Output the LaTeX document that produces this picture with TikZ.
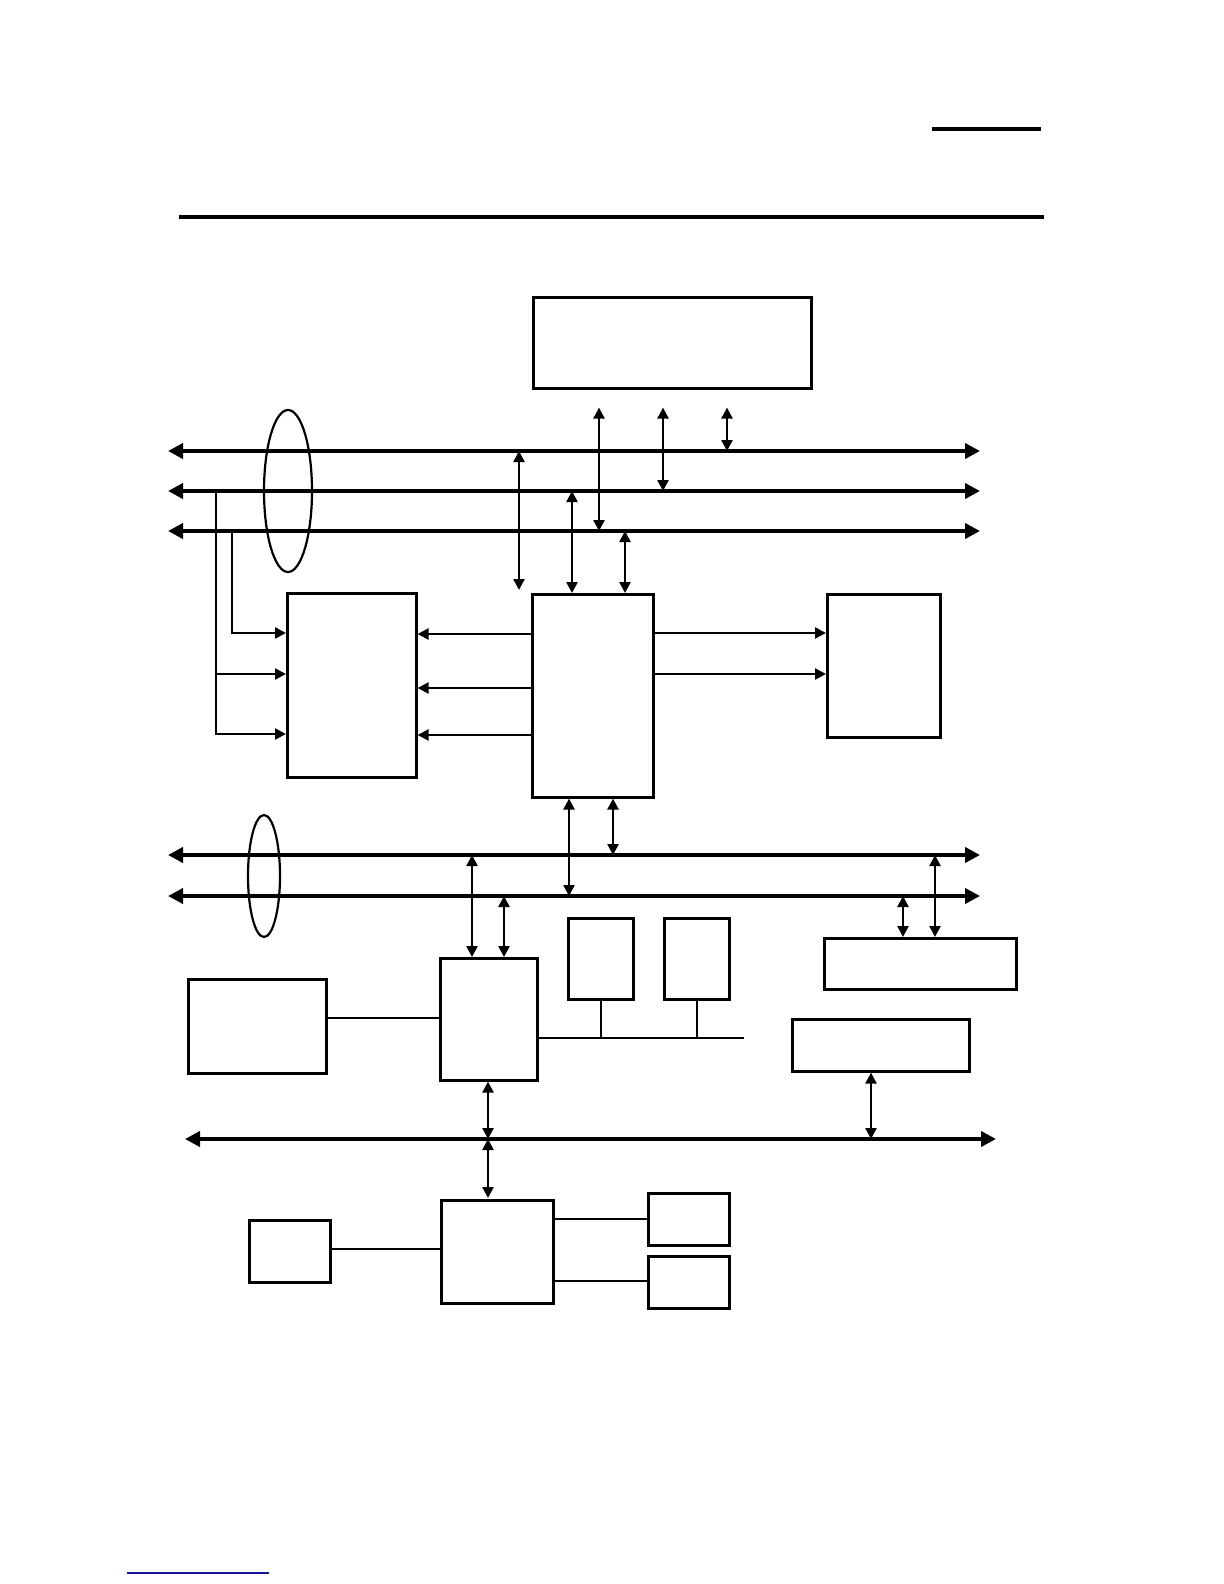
\documentclass[tikz,border=0pt]{standalone}
\usetikzlibrary{arrows.meta}
\definecolor{InkCol}{RGB}{0,0,0}
\definecolor{NoteBlue}{RGB}{20,20,150}
\tikzset{
  hwbox/.style={draw=InkCol, line width=1.3bp, inner sep=0pt, anchor=north west},
  hwbus/.style={{Triangle[length=7.5bp,width=7.5bp]}-{Triangle[length=7.5bp,width=7.5bp]}, line width=2.4bp, draw=InkCol},
  hwlink/.style={{Triangle[length=5.5bp,width=5.5bp]}-{Triangle[length=5.5bp,width=5.5bp]}, line width=1.2bp, draw=InkCol},
  hwfeed/.style={-{Triangle[length=5.5bp,width=5.5bp]}, line width=1.2bp, draw=InkCol},
  hwwire/.style={line width=1.1bp, draw=InkCol},
  hwrule/.style={line width=1.6bp, draw=InkCol},
  hwring/.style={line width=1.1bp, draw=InkCol}
}
% box: name, left, top, width, height (pixels)
\newcommand{\HWBox}[5]{%
  \node[hwbox, minimum width=#4*0.5bp, minimum height=#5*0.5bp] (#1) at (#2,#3) {};}

\begin{document}
\begin{tikzpicture}[x=0.5bp,y=-0.5bp]
  \useasboundingbox[fill=white] (0,0) rectangle (1224,1584);
  % page rules
  \draw[hwrule] (932,129) -- (1041,129);
  \draw[hwrule] (179,217) -- (1044,217);
  \draw[NoteBlue,line width=0.7bp] (127,1573) -- (269,1573);
  % blocks
  \HWBox{top}{532}{296}{278}{91}
  \HWBox{left}{286}{592}{129}{184}
  \HWBox{mid}{531}{593}{121}{203}
  \HWBox{right}{826}{593}{113}{143}
  \HWBox{smA}{567}{917}{65}{81}
  \HWBox{smB}{663}{917}{65}{81}
  \HWBox{boxA}{823}{937}{192}{51}
  \HWBox{boxB}{791}{1018}{177}{52}
  \HWBox{bigL}{187}{978}{138}{94}
  \HWBox{midL}{439}{957}{97}{122}
  \HWBox{botM}{440}{1199}{112}{103}
  \HWBox{botL}{248}{1219}{81}{62}
  \HWBox{botR}{647}{1192}{81}{52}
  \HWBox{botS}{647}{1255}{81}{52}
  % buses
  \foreach \n/\y in {b1/451,b2/491,b3/531,b4/855,b5/896}{%
    \coordinate (\n w) at (168,\y);
    \coordinate (\n e) at (980,\y);
    \draw[hwbus] (\n w) -- (\n e);}
  \coordinate (b6w) at (185,1139);
  \coordinate (b6e) at (996,1139);
  \draw[hwbus] (b6w) -- (b6e);
  \draw[hwring] (288,491) ellipse [x radius=24, y radius=81];
  \draw[hwring] (264,876) ellipse [x radius=16, y radius=61];
  % top block to buses
  \foreach \x/\n in {599/b3,663/b2,727/b1}{%
    \draw[hwlink] ([yshift=-9bp]top.south -| \x,0) -- (\n w -| \x,0);}
  % buses to mid block
  \draw[hwlink] (b1w -| 519,0) -- ([yshift=1.5bp]mid.north -| 519,0);
  \draw[hwlink] (b2w -| 572,0) -- (mid.north -| 572,0);
  \draw[hwlink] (b3w -| 625,0) -- (mid.north -| 625,0);
  % mid block to left block
  \foreach \y in {634,688,735}{%
    \draw[hwfeed] (mid.west |- 0,\y) -- (left.east |- 0,\y);}
  % buses to left block
  \draw[hwfeed] (b3w -| 232,0) |- (left.west |- 0,633);
  \draw[hwfeed] (b2w -| 216,0) |- (left.west |- 0,734);
  \draw[hwfeed] (216,674) -- (left.west |- 0,674);
  % mid block to right block
  \foreach \y in {633,674}{%
    \draw[hwfeed] (mid.east |- 0,\y) -- (right.west |- 0,\y);}
  % mid block to lower buses
  \draw[hwlink] (mid.south -| 569,0) -- (b5w -| 569,0);
  \draw[hwlink] (mid.south -| 613,0) -- (b4w -| 613,0);
  \draw[hwlink] (b4w -| 472,0) -- (midL.north -| 472,0);
  \draw[hwlink] (b5w -| 504,0) -- (midL.north -| 504,0);
  \draw[hwlink] (b4w -| 935,0) -- (boxA.north -| 935,0);
  \draw[hwlink] (b5w -| 903,0) -- (boxA.north -| 903,0);
  % lower section
  \draw[hwwire] (bigL.east |- 0,1018) -- (midL.west |- 0,1018);
  \coordinate (tap) at (744,1038);
  \draw[hwwire] (midL.east |- tap) -- (tap);
  \draw[hwwire] (smA.south) -- (smA.south |- tap);
  \draw[hwwire] (smB.south) -- (smB.south |- tap);
  \draw[hwlink] (midL.south -| 488,0) -- (b6w -| 488,0);
  \draw[hwlink] (b6w -| 488,0) -- ([yshift=0.5bp]botM.north -| 488,0);
  \draw[hwlink] (boxB.south -| 871,0) -- (b6w -| 871,0);
  \draw[hwwire] (botL.east |- 0,1249) -- (botM.west |- 0,1249);
  \draw[hwwire] (botM.east |- 0,1219) -- (botR.west |- 0,1219);
  \draw[hwwire] (botM.east |- 0,1281) -- (botS.west |- 0,1281);
\end{tikzpicture}
\end{document}
